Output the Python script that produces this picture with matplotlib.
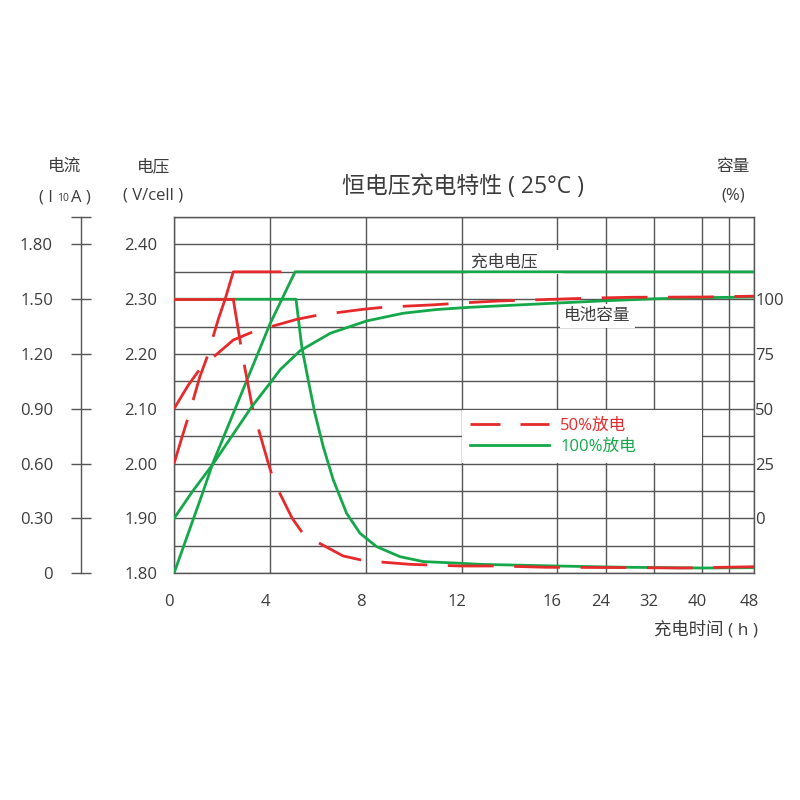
import numpy as np
import matplotlib
matplotlib.use('Agg')
import matplotlib.pyplot as plt
from matplotlib.lines import Line2D
from matplotlib.transforms import ScaledTranslation

plt.rcParams['font.family'] = ['Open Sans', 'Noto Sans CJK SC', 'DejaVu Sans']

# ---------------- data ----------------
x_ticks = [0, 4, 8, 12, 16, 24, 32, 40, 48]
x_tick_labels = ['0', '4', '8', '12', '16', '24', '32', '40', '48']
x_extra_grid = [44]

volt_ticks = [1.80, 1.90, 2.00, 2.10, 2.20, 2.30, 2.40]
cur_ticks = [0, 0.30, 0.60, 0.90, 1.20, 1.50, 1.80]
cur_tick_labels = ['0', '0.30', '0.60', '0.90', '1.20', '1.50', '1.80']
cap_ticks = [0, 25, 50, 75, 100]

# 50% discharge (red)
red_volt_t = [0, 0.36, 0.60, 1.08, 1.36, 1.85, 2.13, 2.47, 4.42]
red_volt_v = [2.00, 2.052, 2.086, 2.159, 2.192, 2.264, 2.30, 2.35, 2.35]
red_cur_t = [0, 2.47, 2.78, 2.92, 3.26, 3.45, 3.93, 4.17, 4.93, 5.42, 7.06, 7.95,
             9.85, 11.92, 13.53, 15.54, 21.4, 28.9, 36.6, 40.3, 48]
red_cur_a = [1.50, 1.50, 1.25, 1.146, 0.912, 0.821, 0.602, 0.501, 0.301, 0.210, 0.095, 0.069,
             0.049, 0.040, 0.040, 0.033, 0.032, 0.031, 0.029, 0.031, 0.036]
red_cap_t = [0, 0.6, 1.11, 2.47, 3.30, 5.11, 6.03, 7.9, 8.81, 10.75, 12.33, 13.56,
             21.4, 28.6, 39.95, 48]
red_cap_p = [50, 60.9, 68.6, 81.4, 85.2, 90.8, 92.8, 95.4, 96.4, 97.4, 98.5, 99.2,
             100.5, 100.9, 101.0, 101.4]

# 100% discharge (green)
green_volt_t = [0, 1.22, 1.61, 4.0, 5.05, 48]
green_volt_v = [1.80, 1.95, 2.00, 2.255, 2.35, 2.35]
green_cur_t = [0, 5.09, 5.33, 5.60, 5.88, 6.23, 6.65, 7.21, 7.77, 8.46, 9.43, 10.40,
               11.92, 12.76, 15.97, 27.5, 40.2, 48]
green_cur_a = [1.50, 1.50, 1.240, 1.058, 0.876, 0.693, 0.511, 0.328, 0.219, 0.146, 0.091, 0.064,
               0.055, 0.049, 0.040, 0.033, 0.029, 0.031]
green_cap_t = [0, 0.78, 1.61, 3.24, 4.0, 4.42, 5.26, 6.53, 8.05, 9.56, 10.94, 12.3,
               15.9, 24, 32, 40, 44.8, 48]
green_cap_p = [0, 12.5, 24.6, 51, 61.7, 67.8, 76.5, 84.5, 90.1, 93.6, 95.3, 96.3,
               98.2, 99.3, 100.2, 100.7, 100.9, 101.0]

legend_labels = ['50%放电', '100%放电']

# ---------------- style ----------------
RED = '#e62a2c'
GREEN = '#14a84a'
GRID = '#555555'
TXT = '#3c3c3c'
LW = 2.0
DASH = (16.5, 7.4)
TICK_FS = 12

# piecewise horizontal scale (hours -> relative position)
scale_h = [0, 4, 8, 12, 16, 24, 32, 40, 44, 48]
scale_p = [0, 96, 191.5, 288, 383, 431.5, 480, 528, 555, 580]


def fwd(h):
    return np.interp(h, scale_h, scale_p)


def inv(p):
    return np.interp(p, scale_p, scale_h)


fig = plt.figure(figsize=(8, 8), dpi=100)
L, R, T, B = 174, 754, 217, 573.3
ax = fig.add_axes([L / 800, 1 - B / 800, (R - L) / 800, (B - T) / 800])
ax.set_xscale('function', functions=(fwd, inv))
ax.set_xlim(0, 48)
ax.set_ylim(1.80, 2.45)
ax.set_axisbelow(True)

# twins (share x with ax)
axc = ax.twinx()
axp = ax.twinx()

ax.set_xticks(x_ticks)
ax.set_xticklabels(x_tick_labels)
ax.set_xticks(x_extra_grid, minor=True)
ax.set_yticks(volt_ticks)
ax.set_yticklabels([f'{v:.2f}' for v in volt_ticks])
ax.set_yticks([v + 0.05 for v in volt_ticks], minor=True)
ax.grid(True, which='both', color=GRID, lw=1.0)
ax.tick_params(axis='both', which='both', length=0, colors=TXT, labelsize=TICK_FS)
ax.tick_params(axis='x', pad=15)
ax.tick_params(axis='y', pad=12)
for lbl in ax.get_xticklabels():
    lbl.set_transform(lbl.get_transform() + ScaledTranslation(-0.05, 0, fig.dpi_scale_trans))
for s in ax.spines.values():
    s.set_color(GRID)
    s.set_linewidth(1.0)

# voltage lines
ax.plot(green_volt_t, green_volt_v, color=GREEN, lw=LW, zorder=3)
ax.plot(red_volt_t[:7], red_volt_v[:7], color=RED, lw=LW, dashes=DASH, zorder=3)
ax.plot(red_volt_t[6:], red_volt_v[6:], color=RED, lw=LW, zorder=3)

# current axis (left, outer)
axc.set_ylim(0, 1.95)
axc.yaxis.set_ticks_position('left')
for k in ['right', 'top', 'bottom']:
    axc.spines[k].set_visible(False)
axc.spines['left'].set_visible(True)
axc.spines['left'].set_position(('outward', 93 * 0.72))
axc.spines['left'].set_color(GRID)
axc.spines['left'].set_linewidth(1.0)
axc.set_yticks(cur_ticks + [1.95])
axc.set_yticklabels(cur_tick_labels + [''])
axc.tick_params(axis='y', direction='inout', length=14.4, width=1.0, color=GRID,
                labelcolor=TXT, labelsize=TICK_FS, pad=13)
axc.plot(green_cur_t, green_cur_a, color=GREEN, lw=LW, zorder=3)
axc.plot(red_cur_t[:2], red_cur_a[:2], color=RED, lw=LW, zorder=4)
axc.plot(red_cur_t[1:], red_cur_a[1:], color=RED, lw=LW, dashes=DASH, zorder=4)

# capacity axis (right)
axp.set_ylim(-25, 137.5)
for s in axp.spines.values():
    s.set_visible(False)
axp.set_yticks(cap_ticks)
axp.set_yticklabels([str(c) for c in cap_ticks])
axp.tick_params(axis='y', length=0, labelcolor=TXT, labelsize=TICK_FS, pad=1.0)
axp.plot(green_cap_t, green_cap_p, color=GREEN, lw=LW, zorder=3)
axp.plot(red_cap_t, red_cap_p, color=RED, lw=LW, dashes=DASH, zorder=4)

# in-plot labels
box = dict(facecolor='white', edgecolor='none', boxstyle='square,pad=0.25')
ax.text(12.38, 2.368, '充电电压\u3000 ', fontsize=12, color=TXT, ha='left', va='center',
        bbox=box, zorder=1.5)
ax.text(17.15, 2.2696, '电池容量', fontsize=12, color=TXT, ha='left', va='center',
        bbox=box, zorder=1.5)

# legend
h_red = Line2D([], [], color=RED, lw=LW, dashes=(10.8, 7.2))
h_green = Line2D([], [], color=GREEN, lw=LW)
x0 = (462 - L) / (R - L)
x1 = (702 - L) / (R - L)
y0 = (B - 463.3) / (B - T)
y1 = (B - 409.3) / (B - T)
leg = ax.legend([h_red, h_green], legend_labels, loc='center left',
                bbox_to_anchor=(x0, y0, x1 - x0, y1 - y0), mode='expand',
                frameon=True, fancybox=False, framealpha=1, facecolor='white',
                edgecolor='none', borderpad=0.45, borderaxespad=0, handlelength=4.74,
                handletextpad=0.7, labelspacing=0.35, prop={'size': 12})
leg.get_texts()[0].set_color(RED)
leg.get_texts()[1].set_color(GREEN)

# header texts
fig.text(65 / 800, 1 - 167 / 800, '电流', fontsize=12, color=TXT, ha='center', va='center')
fig.text(53 / 800, 1 - 201 / 800, '( I', fontsize=12, color=TXT, ha='right', va='baseline')
fig.text(62.5 / 800, 1 - 201 / 800, '10', fontsize=7.5, color=TXT, ha='center', va='baseline')
fig.text(71 / 800, 1 - 201 / 800, 'A )', fontsize=12, color=TXT, ha='left', va='baseline')
fig.text(154 / 800, 1 - 167 / 800, '电压', fontsize=12, color=TXT, ha='center', va='center')
fig.text(153 / 800, 1 - 195 / 800, '( V/cell )', fontsize=12, color=TXT, ha='center', va='center')
fig.text(733 / 800, 1 - 167 / 800, '容量', fontsize=12, color=TXT, ha='center', va='center')
fig.text(733 / 800, 1 - 195 / 800, '(%)', fontsize=12, color=TXT, ha='center', va='center')
fig.text(463 / 800, 1 - 187 / 800, '恒电压充电特性 ( 25°C )', fontsize=16.5, color=TXT,
         ha='center', va='center')
fig.text(758 / 800, 1 - 630 / 800, '充电时间 ( h )', fontsize=12.5, color=TXT,
         ha='right', va='center')

fig.savefig('out.png', dpi=100, facecolor='white')
